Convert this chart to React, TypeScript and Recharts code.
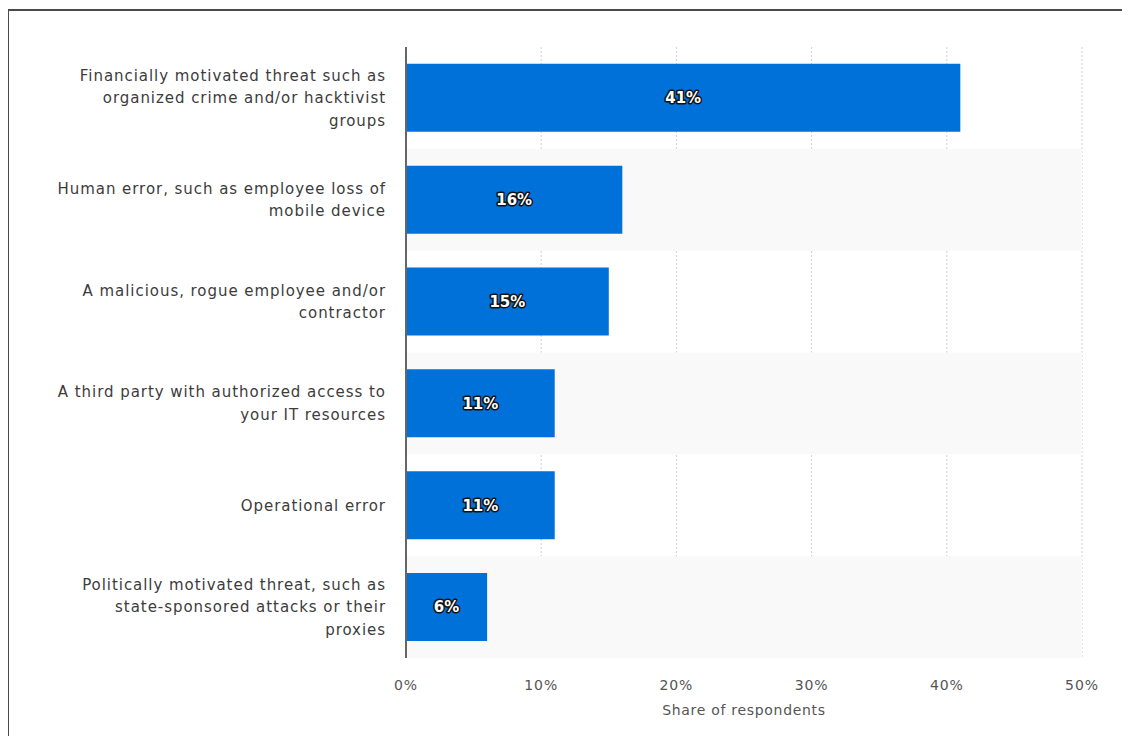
import React from 'react';
import { BarChart, Bar, XAxis, YAxis, CartesianGrid, ReferenceArea, LabelList } from 'recharts';

const categories = [
  'Financially motivated threat such as\norganized crime and/or hacktivist\ngroups',
  'Human error, such as employee loss of\nmobile device',
  'A malicious, rogue employee and/or\ncontractor',
  'A third party with authorized access to\nyour IT resources',
  'Operational error',
  'Politically motivated threat, such as\nstate-sponsored attacks or their\nproxies',
];
const shares = [41, 16, 15, 11, 11, 6];
const xTicks = [0, 10, 20, 30, 40, 50];
const shadedCategories = [categories[1], categories[3], categories[5]];
const axisTitle = 'Share of respondents';

const data = categories.map((name, i) => ({ name, value: shares[i] }));
const FONT = '"DejaVu Sans", Verdana, sans-serif';

const YTick = (props: any) => {
  const { x, y, payload } = props;
  const lines = String(payload.value).split('\n');
  const lh = 22.5;
  const start = y - ((lines.length - 1) * lh) / 2;
  return (
    <text x={x} y={start} textAnchor="end" fill="#3c3c3c" fontSize={15} letterSpacing={0.95} fontFamily={FONT}>
      {lines.map((l, i) => (
        <tspan key={i} x={x} y={start + i * lh} dy="0.35em">
          {l}
        </tspan>
      ))}
    </text>
  );
};

const BarLabel = (props: any) => {
  const { x, y, width, height, value } = props;
  const cx = Number(x) + Number(width) / 2;
  const cy = Number(y) + Number(height) / 2;
  return (
    <text
      x={cx}
      y={cy}
      dy="0.36em"
      textAnchor="middle"
      fill="#ffffff"
      stroke="#111111"
      strokeWidth={3}
      strokeLinejoin="round"
      paintOrder="stroke"
      fontSize={15}
      fontWeight="bold"
      fontFamily={FONT}
    >
      {`${value}%`}
    </text>
  );
};

export default function App() {
  return (
    <div style={{ position: 'relative', margin: -8, width: 1130, height: 744, background: '#fff', overflow: 'hidden' }}>
      <div
        style={{
          position: 'absolute',
          left: 7,
          top: 9,
          width: 1200,
          height: 800,
          borderTop: '2px solid #4a4a4a',
          borderLeft: '2px solid #4a4a4a',
        }}
      />
      <div style={{ position: 'absolute', left: 0, top: 0 }}>
        <BarChart
          width={1130}
          height={744}
          data={data}
          layout="vertical"
          margin={{ top: 47, right: 48, bottom: 26, left: 0 }}
          barCategoryGap="16.5%"
        >
          {shadedCategories.map((c) => (
            <ReferenceArea key={c} y1={c} y2={c} fill="#f9f9f9" fillOpacity={1} stroke="none" />
          ))}
          <CartesianGrid horizontal={false} stroke="#cfcfcf" strokeDasharray="2 2" />
          <XAxis
            type="number"
            domain={[0, 50]}
            ticks={xTicks}
            tickFormatter={(v: number) => `${v}%`}
            axisLine={false}
            tickLine={false}
            tickMargin={16}
            height={60}
            tick={{ fill: '#555', fontSize: 14, letterSpacing: 0.9, fontFamily: FONT }}
            label={{ value: axisTitle, position: 'insideBottom', offset: 3, fill: '#555', fontSize: 14, letterSpacing: 0.7, fontFamily: FONT }}
          />
          <YAxis
            type="category"
            dataKey="name"
            width={406}
            axisLine={{ stroke: '#666', strokeWidth: 2 }}
            tickLine={false}
            tickMargin={14}
            tick={<YTick />}
            interval={0}
          />
          <Bar dataKey="value" fill="#0071d9" isAnimationActive={false}>
            <LabelList dataKey="value" content={<BarLabel />} />
          </Bar>
        </BarChart>
      </div>
    </div>
  );
}
